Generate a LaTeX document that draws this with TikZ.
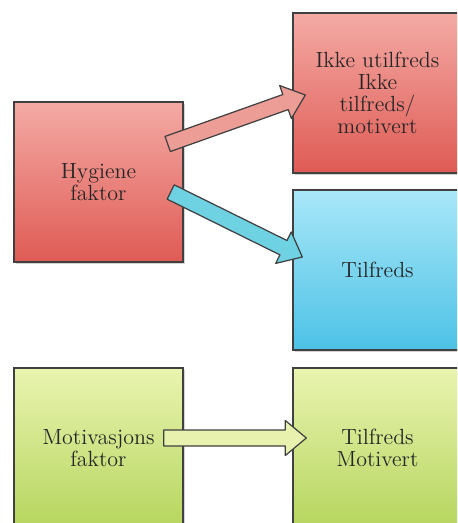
\documentclass[tikz,border=0pt]{standalone}
\usepackage{tikz}
\usetikzlibrary{positioning, calc, shadows}

\definecolor{redtop}{HTML}{F4AAA4}
\definecolor{redbot}{HTML}{DF5B55}
\definecolor{cyantop}{HTML}{A9E7F8}
\definecolor{cyanbot}{HTML}{4DC2E6}
\definecolor{greentop}{HTML}{E9F4B0}
\definecolor{greenbot}{HTML}{B6D55E}
\definecolor{redarrow}{HTML}{EC9E96}
\definecolor{cyanarrow}{HTML}{6ED2E2}
\definecolor{greenarrow}{HTML}{E8F1AE}

% fat block arrow from #1 to #2, filled with #3
\newcommand{\fatarrow}[3]{%
  \coordinate (fa-h) at ($(#2)!0.42cm!(#1)$);
  \draw[fatline, fill=#3]
    ($(#1)!0.16cm!90:(#2)$) -- ($(fa-h)!0.16cm!-90:(#1)$) -- ($(fa-h)!0.35cm!-90:(#1)$)
    -- (#2) -- ($(fa-h)!0.35cm!90:(#1)$) -- ($(fa-h)!0.16cm!90:(#1)$)
    -- ($(#1)!0.16cm!-90:(#2)$) -- cycle;
}

\begin{document}
\begin{tikzpicture}[
	x=0.02cm, y=-0.02cm,
	box/.style={rectangle, draw=black!75, line width=0.8pt, minimum width=3.38cm, minimum height=3.2cm,
		align=center, text=black!85, font=\fontsize{12.5}{12.5}\selectfont,
		drop shadow={opacity=0.35, shadow xshift=1.2pt, shadow yshift=-1.2pt}},
	fatline/.style={draw=black!75, line width=0.7pt, line join=round}
]
\clip (0,0) rectangle (457,523);

% Hygiene
\node[box, top color=redtop, bottom color=redbot] (hyg) at (98.5,182) {Hygiene\\faktor};
\node[box, top color=redtop, bottom color=redbot] (ikke) at (377.5,93) {Ikke utilfreds\\Ikke\\tilfreds/\\motivert};
\node[box, top color=cyantop, bottom color=cyanbot] (tilf) at (377.5,270) {Tilfreds};

% Motivasjon
\node[box, top color=greentop, bottom color=greenbot] (mot) at (98.5,448) {Motivasjons\\faktor};
\node[box, top color=greentop, bottom color=greenbot] (tilfmot) at (377.5,448) {Tilfreds\\Motivert};

% arrow ends
\coordinate (a1) at ($(hyg.east)+(-16,-38)$);
\coordinate (b1) at ($(ikke.west)+(13,2)$);
\coordinate (a2) at ($(hyg.east)+(-13,10)$);
\coordinate (b2) at ($(tilf.west)+(10,-13)$);
\coordinate (a3) at ($(mot.east)+(-20,-10)$);
\coordinate (b3) at ($(tilfmot.west)+(14,-10)$);

\fatarrow{a1}{b1}{redarrow}
\fatarrow{a2}{b2}{cyanarrow}
\fatarrow{a3}{b3}{greenarrow}

\end{tikzpicture}
\end{document}
